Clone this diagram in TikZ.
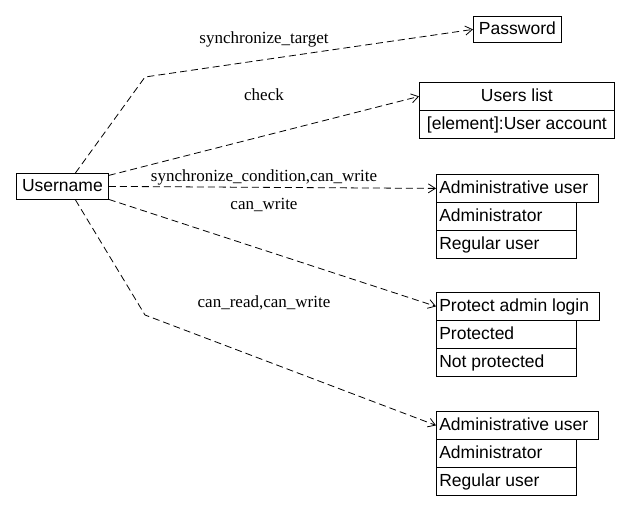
\documentclass[tikz,border=0pt]{standalone}
\usepackage{fontspec}
\setmainfont{Liberation Serif}
\setsansfont{Liberation Sans}
\usetikzlibrary{arrows.meta}
\begin{document}
\begin{tikzpicture}[x=1pt,y=-1pt,
  cell/.style={draw,thick,inner sep=0pt,font=\sffamily\fontsize{17.5}{20}\selectfont,anchor=north west,text height=13pt,text depth=3.5pt},
  lab/.style={font=\fontsize{17}{20}\selectfont},
  conn/.style={thick,dash pattern=on 7pt off 4pt,-{Straight Barb[length=7pt,width=9pt]}}]
\useasboundingbox (0,0) rectangle (631,506);
\tikzset{box/.style args={#1/#2/#3/#4}{cell,minimum width=#3-#1,minimum height=#4-#2}}
\node[box=16/173/108/199] (u) at (16,173) {Username};
\node[box=473/16/561/42] (pw) at (473,16) {Password};
\node[box=419/82/614/110] (ul) at (419,82) {Users list};
\node[box=419/110/614/138] (ul2) at (419,110) {[element]:User account};
\node[box=436/174/598/202] (a1) at (436,174) {\makebox[162pt][l]{\,Administrative user}};
\node[box=436/202/576/230] (a2) at (436,202) {\makebox[140pt][l]{\,Administrator}};
\node[box=436/230/576/258] (a3) at (436,230) {\makebox[140pt][l]{\,Regular user}};
\node[box=436/292/599/320] (p1) at (436,292) {\makebox[163pt][l]{\,Protect admin login}};
\node[box=436/320/576/348] (p2) at (436,320) {\makebox[140pt][l]{\,Protected}};
\node[box=436/348/576/376] (p3) at (436,348) {\makebox[140pt][l]{\,Not protected}};
\node[box=436/411/598/439] (b1) at (436,411) {\makebox[162pt][l]{\,Administrative user}};
\node[box=436/439/576/467] (b2) at (436,439) {\makebox[140pt][l]{\,Administrator}};
\node[box=436/467/576/495] (b3) at (436,467) {\makebox[140pt][l]{\,Regular user}};
\coordinate (k1) at (145,77);
\coordinate (k2) at (145,315);
\draw[conn] (u.north) ++(13,0) -- (k1) -- (pw.west);
\draw[conn] (u.east) ++(0,-11) -- (ul.west);
\draw[conn] (u.east) -- (a1.west);
\draw[conn] (u.east) ++(0,13) -- (p1.west);
\draw[conn] (u.south) ++(13,0) -- (k2) -- (b1.west);
\node[lab] (l1) at (264,39) {synchronize\_target};
\node[lab] (l2) at (264,95) {check};
\node[lab] (l3) at (264,177) {synchronize\_condition,can\_write};
\node[lab] (l4) at (264,205) {can\_write};
\node[lab] (l5) at (264,303) {can\_read,can\_write};
\end{tikzpicture}
\end{document}
